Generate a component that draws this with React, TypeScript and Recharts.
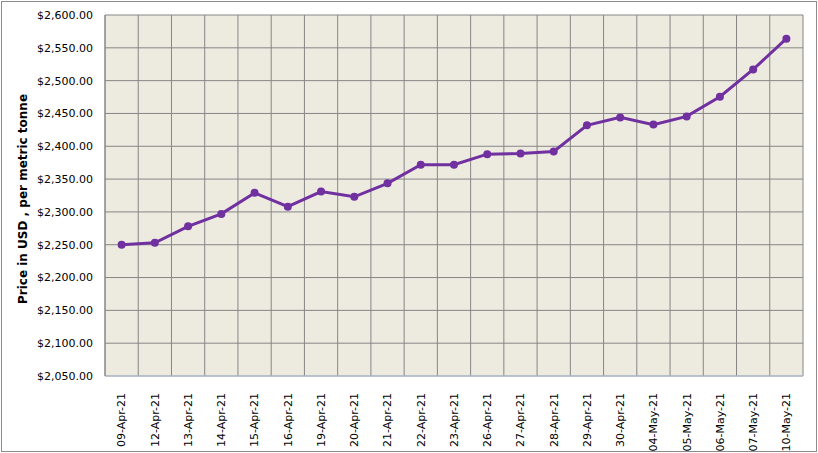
import { LineChart, Line, XAxis, YAxis, CartesianGrid } from "recharts";

const dates = [
  "09-Apr-21", "12-Apr-21", "13-Apr-21", "14-Apr-21", "15-Apr-21", "16-Apr-21",
  "19-Apr-21", "20-Apr-21", "21-Apr-21", "22-Apr-21", "23-Apr-21", "26-Apr-21",
  "27-Apr-21", "28-Apr-21", "29-Apr-21", "30-Apr-21", "04-May-21", "05-May-21",
  "06-May-21", "07-May-21", "10-May-21",
];

const prices = [
  2250, 2253, 2278, 2297, 2329, 2308, 2331, 2323, 2343.5, 2372, 2372, 2388,
  2389, 2392, 2432, 2444, 2433, 2445.5, 2475.5, 2517, 2564,
];

const yTicks = [2050, 2100, 2150, 2200, 2250, 2300, 2350, 2400, 2450, 2500, 2550, 2600];

const data = dates.map((date, i) => ({ date, pos: i + 0.5, price: prices[i] }));
const labelTicks = data.map((d) => d.pos);
const gridTicks = Array.from({ length: dates.length + 1 }, (_, i) => i);

const font = "'DejaVu Sans', Verdana, sans-serif";

const money = (v: number) =>
  "$" + v.toLocaleString("en-US", { minimumFractionDigits: 2, maximumFractionDigits: 2 });

function DateTick(props: any) {
  const { x, y, payload } = props;
  const label = dates[Math.floor(payload.value)];
  return (
    <g transform={`translate(${x},${y})`}>
      <text
        transform="rotate(-90)"
        x={-9}
        y={0}
        dy="0.35em"
        textAnchor="end"
        fill="#000"
        fontSize={11}
        fontFamily={font}
      >
        {label}
      </text>
    </g>
  );
}

export default function App() {
  return (
    <div style={{ position: "absolute", left: 0, top: 0, width: 818, height: 453, background: "#fff" }}>
      <LineChart
        width={818}
        height={453}
        data={data}
        margin={{ top: 15, right: 15, bottom: 0, left: 0 }}
      >
        <CartesianGrid
          xAxisId="grid"
          fill="#EDEAE0"
          stroke="#868686"
          strokeWidth={1}
          verticalFill={undefined}
        />
        <XAxis
          xAxisId="grid"
          type="number"
          dataKey="pos"
          domain={[0, dates.length]}
          ticks={gridTicks}
          hide
        />
        <XAxis
          type="number"
          dataKey="pos"
          domain={[0, dates.length]}
          ticks={labelTicks}
          interval={0}
          height={77}
          tickLine={false}
          axisLine={{ stroke: "#B4C6DC" }}
          tick={<DateTick />}
        />
        <YAxis
          domain={[2050, 2600]}
          ticks={yTicks}
          interval={0}
          width={105}
          tickLine={false}
          tickSize={0}
          tickMargin={12}
          axisLine={{ stroke: "#868686" }}
          tickFormatter={money}
          tick={{ fill: "#000", fontSize: 11, fontFamily: font }}
          label={{
            content: () => (
              <text
                x={23}
                y={199}
                transform="rotate(-90, 23, 199)"
                textAnchor="middle"
                dominantBaseline="central"
                fontSize={12}
                fontWeight="bold"
                fontFamily={font}
                fill="#000"
              >
                Price in USD , per metric tonne
              </text>
            ),
          }}
        />
        <Line
          type="linear"
          dataKey="price"
          stroke="#7030A0"
          strokeWidth={3}
          dot={{ r: 4, fill: "#7030A0", stroke: "#7030A0", strokeWidth: 0 }}
          isAnimationActive={false}
        />
      </LineChart>
      <div
        style={{
          position: "absolute",
          left: 1,
          top: 1,
          width: 816,
          height: 451,
          border: "1px solid #8C8C8C",
          boxSizing: "border-box",
          pointerEvents: "none",
        }}
      />
    </div>
  );
}
